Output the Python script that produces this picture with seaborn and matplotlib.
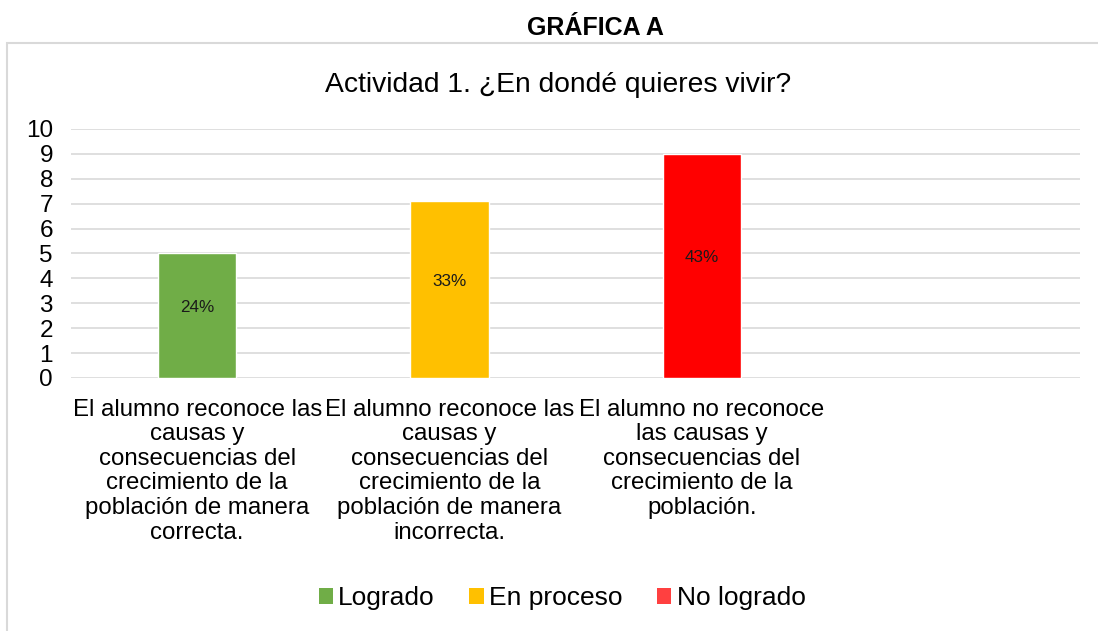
import matplotlib
matplotlib.use("Agg")
import matplotlib.pyplot as plt
import pandas as pd
import seaborn as sns
from matplotlib.patches import Patch, Rectangle

categories = [
    "El alumno reconoce las\ncausas y\nconsecuencias del\ncrecimiento de la\npoblación de manera\ncorrecta.",
    "El alumno reconoce las\ncausas y\nconsecuencias del\ncrecimiento de la\npoblación de manera\nincorrecta.",
    "El alumno no reconoce\nlas causas y\nconsecuencias del\ncrecimiento de la\npoblación.",
    " ",
]
series = ["Logrado", "En proceso", "No logrado"]
values = [5, 7.1, 9]
pct_labels = ["24%", "33%", "43%"]
bar_colors = ["#70AD47", "#FFC000", "#FF0000"]
legend_colors = ["#70AD47", "#FFC000", "#FF4040"]


def main():
    df = pd.DataFrame({"cat": categories[:3], "serie": series, "valor": values})

    sns.set_theme(style="white")
    plt.rcParams["font.family"] = ["Liberation Sans", "DejaVu Sans"]
    plt.rcParams["text.color"] = "black"

    fig = plt.figure(figsize=(10.98, 6.31), dpi=100)
    ax = fig.add_axes([0.0647, 0.401, 0.919, 0.3946])

    sns.barplot(
        data=df, x="cat", y="valor", hue="serie", order=categories,
        hue_order=series, palette=bar_colors, dodge=False, width=0.31,
        saturation=1, legend=False, ax=ax,
    )

    # percentage labels inside the bars
    for i, (v, lab) in enumerate(zip(values, pct_labels)):
        ax.annotate(lab, (i, v / 2), xytext=(0, 6), textcoords="offset points",
                    ha="center", va="center", fontsize=12.3, color="#1a1a1a")

    ax.set_ylim(0, 10)
    ax.set_xlim(-0.5, 3.5)
    ax.set_yticks(range(0, 11))
    ax.yaxis.grid(True, color="#D9D9D9", linewidth=1.2)
    ax.set_axisbelow(True)
    for s in ax.spines.values():
        s.set_visible(False)
    ax.tick_params(axis="y", length=0, pad=13, labelsize=17.5, labelcolor="black")
    ax.tick_params(axis="x", length=0, pad=15, labelsize=17.3, labelcolor="black")
    for t in ax.get_xticklabels():
        t.set_linespacing(1.15)
        t.set_va("top")
    ax.set_xlabel("")
    ax.set_ylabel("")

    # chart frame
    fig.patches.append(Rectangle((7 / 1098, -0.1), 1.2, 1.1 + (1 - 43 / 631) - 1,
                                 transform=fig.transFigure, fill=False,
                                 edgecolor="#D9D9D9", linewidth=1.5))

    fig.text(595 / 1098, 1 - 28 / 631, "GRÁFICA A", ha="center", va="center",
             fontsize=18, fontweight="bold")
    fig.text(558 / 1098, 1 - 85 / 631, "Actividad 1. ¿En dondé quieres vivir?",
             ha="center", va="center", fontsize=20.3)

    handles = [Patch(facecolor=c, edgecolor="none", label=s)
               for c, s in zip(legend_colors, series)]
    fig.legend(handles=handles, loc="center", bbox_to_anchor=(562 / 1098, 1 - 598 / 631),
               ncol=3, frameon=False, fontsize=19, handlelength=0.55, handleheight=0.55,
               handletextpad=0.2, columnspacing=1.3)

    fig.savefig("out.png", dpi=100)


if __name__ == "__main__":
    main()
